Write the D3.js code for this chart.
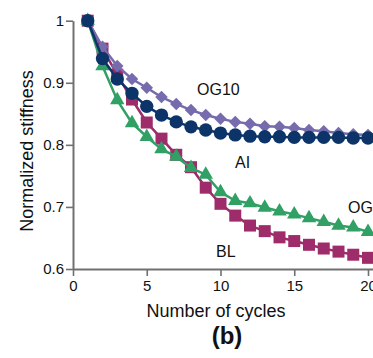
<!DOCTYPE html>
<html>
<head>
<meta charset="utf-8">
<script src="https://cdn.jsdelivr.net/npm/d3@7"></script>
<style>
  html, body { margin: 0; padding: 0; background: #fff; }
  svg { display: block; font-family: "Liberation Sans", Arial, sans-serif; }
</style>
</head>
<body>
<svg id="chart" width="373" height="358"></svg>
<script>
const cycles = d3.range(1, 21);
const BL   = [1, 0.955, 0.913, 0.873, 0.836, 0.810, 0.784, 0.764, 0.731, 0.705, 0.686, 0.670, 0.661, 0.651, 0.645, 0.639, 0.633, 0.628, 0.623, 0.618];
const OG3  = [1, 0.927, 0.872, 0.835, 0.813, 0.793, 0.781, 0.763, 0.752, 0.724, 0.710, 0.706, 0.699, 0.693, 0.688, 0.682, 0.676, 0.670, 0.667, 0.660];
const OG10 = [1, 0.958, 0.927, 0.906, 0.892, 0.877, 0.866, 0.856, 0.848, 0.842, 0.837, 0.834, 0.830, 0.829, 0.827, 0.824, 0.822, 0.819, 0.817, 0.816];
const AI   = [1, 0.939, 0.906, 0.883, 0.862, 0.848, 0.837, 0.829, 0.824, 0.819, 0.816, 0.814, 0.813, 0.813, 0.812, 0.812, 0.812, 0.812, 0.811, 0.811];
const xTicks = [0, 5, 10, 15, 20];
const yTicks = [0.6, 0.7, 0.8, 0.9, 1];
const yTickLabels = ["0.6", "0.7", "0.8", "0.9", "1"];

const seriesList = [
  { name: "BL",   values: BL,   color: "#9e2b6a", symbol: d3.symbolSquare,   size: 144, rot: 0,  label: [216, 257] },
  { name: "OG3",  values: OG3,  color: "#30a064", symbol: d3.symbolTriangle, size: 90,  rot: 0,  label: [348, 213] },
  { name: "OG10", values: OG10, color: "#766cad", symbol: d3.symbolSquare,   size: 78,  rot: 45, label: [197, 95] },
  { name: "AI",   values: AI,   color: "#0c3468", symbol: d3.symbolCircle,   size: 140, rot: 0,  label: [235, 168] }
];

const svg = d3.select("#chart");
const x = d3.scaleLinear().domain([0, 20]).range([73, 368]);
const y = d3.scaleLinear().domain([0.6, 1]).range([269, 20.7]);

const axisColor = "#707070";

// Y axis
const yAxis = svg.append("g").attr("transform", `translate(${x(0)},0)`)
  .call(d3.axisLeft(y).tickValues(yTicks).tickFormat((d, i) => yTickLabels[i]).tickSize(7).tickSizeOuter(0));
// X axis
const xAxis = svg.append("g").attr("transform", `translate(0,${y(0.6)})`)
  .call(d3.axisBottom(x).tickValues(xTicks).tickFormat(d3.format("d")).tickSize(7).tickSizeOuter(0));
[xAxis, yAxis].forEach(g => {
  g.select(".domain").attr("stroke", axisColor).attr("stroke-width", 2);
  g.selectAll(".tick line").attr("stroke", axisColor).attr("stroke-width", 1.6);
  g.selectAll(".tick text").attr("fill", "#111").style("font-size", "15px")
    .style("font-family", '"Liberation Sans", Arial, sans-serif');
});
xAxis.select(".domain").attr("d", `M${x(0)},0.5H${373}`);
xAxis.selectAll(".tick text").attr("dy", "0.95em").attr("y", 8);
yAxis.selectAll(".tick text").attr("x", -9);

// Lines and markers
const line = d3.line().x((d, i) => x(cycles[i])).y(d => y(d));
seriesList.forEach(s => {
  const g = svg.append("g");
  g.append("path").datum(s.values)
    .attr("d", line).attr("fill", "none")
    .attr("stroke", s.color).attr("stroke-width", 2.5);
  g.selectAll("path.m").data(s.values).enter().append("path").attr("class", "m")
    .attr("transform", (d, i) => `translate(${x(cycles[i])},${y(d)}) rotate(${s.rot})`)
    .attr("d", d3.symbol().type(s.symbol).size(s.size))
    .attr("fill", s.color);
});

// Series labels
seriesList.forEach(s => {
  svg.append("text").attr("x", s.label[0]).attr("y", s.label[1])
    .attr("fill", "#111").style("font-size", "16px").text(s.name);
});

// Axis titles
svg.append("text").attr("x", 216).attr("y", 317).attr("text-anchor", "middle")
  .attr("fill", "#111").style("font-size", "18px").text("Number of cycles");
svg.append("text").attr("transform", "translate(33,151) rotate(-90)").attr("text-anchor", "middle")
  .attr("fill", "#111").style("font-size", "18px").text("Normalized stiffness");
svg.append("text").attr("x", 227).attr("y", 344).attr("text-anchor", "middle")
  .attr("fill", "#111").style("font-size", "24px").style("font-weight", "bold").text("(b)");
</script>
</body>
</html>
